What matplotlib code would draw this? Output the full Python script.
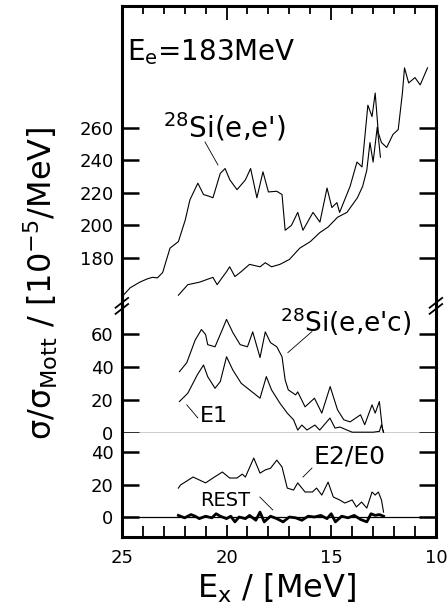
import matplotlib
matplotlib.use("Agg")
import matplotlib.pyplot as plt
from matplotlib.lines import Line2D
from matplotlib.ticker import MultipleLocator

# 28Si(e,e') inclusive spectrum (upper curve, top panel)
ee_E = [25.0, 24.6, 24.15, 23.8, 23.55, 23.3, 23.05, 22.7, 22.3, 21.97, 21.75, 21.37,
        21.1, 20.85, 20.65, 20.3, 20.07, 19.84, 19.5, 19.1, 18.85, 18.55, 18.26, 18.0,
        17.6, 17.35, 17.2, 16.9, 16.6, 16.35, 15.87, 15.54, 15.2, 14.97, 14.73, 14.6,
        14.1, 13.77, 13.53, 13.25, 13.05, 12.9, 12.75, 12.6, 12.35, 12.05, 11.8, 11.6,
        11.5, 11.3, 11.0, 10.75, 10.5, 10.4]
ee_val = [156, 161.6, 165, 167, 168, 167.7, 171, 186, 190, 203.4, 215.7, 226,
          219, 218, 217, 232, 235, 228, 222, 228, 235, 217, 233, 220.6,
          221, 219, 197, 200, 208, 197, 208, 202, 223, 211, 214, 208,
          224, 239, 236, 274, 267, 281.5, 257, 251, 248, 256, 259, 281.5,
          297, 287.7, 291, 286.5, 294, 297]

# second (lower) curve, top panel
ee2_E = [22.3, 21.85, 21.3, 20.65, 20.45, 20.2, 20.0, 19.85, 19.6, 19.35, 18.9, 18.4,
         18.15, 17.85, 17.45, 17.0, 16.5, 16.0, 15.55, 15.15, 14.7, 14.25, 13.75, 13.5,
         13.3, 13.15, 13.0, 12.8, 12.65]
ee2_val = [157, 163.5, 165, 168, 163.5, 168, 171.5, 174.5, 168.5, 171, 176, 174.5,
           177, 174.5, 176, 179, 186, 190, 195.5, 199, 205, 208, 217, 224,
           234, 251, 239, 260.6, 242]

# 28Si(e,e'c) coincidence
eec_E = [22.25, 21.9, 21.5, 21.2, 21.0, 20.9, 20.55, 20.2, 20.0, 19.7, 19.35, 19.0,
         18.75, 18.4, 18.15, 17.9, 17.6, 17.35, 17.2, 17.05, 16.7, 16.6, 16.25, 15.8,
         15.45, 15.05, 14.7, 14.4, 14.1, 13.6, 13.4, 13.05, 12.9, 12.7, 12.55, 12.5]
eec_val = [37, 42.4, 56, 62.4, 59.4, 53.3, 52, 62.4, 68.5, 60.6, 53.3, 52,
           61, 45.5, 61, 54.5, 52, 46, 32, 26, 23, 24.8, 15.8, 21,
           12, 28, 14, 8, 6.7, 11, 5, 17, 12, 19, 2, 0.5]

# E1 part
e1_E = [22.25, 21.85, 21.4, 21.1, 20.9, 20.55, 20.3, 20.0, 19.7, 19.3, 18.9, 18.4,
        18.1, 17.85, 17.45, 17.1, 16.8, 16.6, 16.4, 16.16, 15.78, 15.55, 15.06, 14.82,
        14.58, 14.25, 14.0, 13.5, 13.0, 12.7, 12.6, 12.5]
e1_val = [19, 24, 35, 41, 34, 27, 31, 46, 38, 30, 26, 21,
          34, 26, 18, 12, 8, 1.8, 4.8, 1.8, 4.8, 1.8, 9, 3,
          3.6, 1.8, 0.5, 0.5, 0.5, 1, 5, 0.5]

# E2/E0 part
e2_E = [22.3, 22.2, 21.6, 21.0, 20.65, 20.2, 19.85, 19.5, 19.25, 19.1, 18.7, 18.4,
        18.15, 17.9, 17.6, 17.35, 17.1, 16.8, 16.6, 16.25, 15.9, 15.7, 15.45, 15.15,
        14.9, 14.6, 14.35, 14.0, 13.8, 13.55, 13.3, 13.05, 12.9, 12.75, 12.6, 12.5]
e2_val = [17.8, 19.7, 24.6, 21, 24, 27.7, 24, 24, 26.4, 24.6, 36.3, 27,
          29, 30, 35, 30.8, 17.8, 16.6, 21, 15.4, 15.4, 17.8, 13.5, 21.5,
          12.3, 10.5, 8.6, 10.5, 6.2, 9.2, 5.5, 15.4, 13.5, 15.4, 10.5, 3]

# REST
rest_E = [22.3, 22.0, 21.7, 21.5, 21.3, 21.0, 20.7, 20.5, 20.3, 20.0, 19.8, 19.6, 19.4,
          19.1, 18.9, 18.6, 18.4, 18.2, 17.9, 17.6, 17.3, 17.0, 16.7, 16.4, 16.1, 15.8,
          15.5, 15.2, 15.0, 14.8, 14.5, 14.2, 13.9, 13.6, 13.3, 13.1, 12.9, 12.7, 12.5]
rest_val = [1, -0.5, 1.5, 0.5, -1, 0.5, -0.5, 2, 0.5, -1, 0.5, -3, 0,
            -1, 1, -2, 3, -3, 0.5, -1, -3, 0, -0.5, -2, 0.5, 0,
            1, -1, 2, -3, 0.5, -0.5, 1, -1.5, -3, 2, 1, 1.5, 0.5]

top_ticks = [180, 200, 220, 240, 260]
mid_ticks = [0, 20, 40, 60]
bot_ticks = [0, 20, 40]
x_ticks = [25, 20, 15, 10]

FRAME = 2.2
fig = plt.figure(figsize=(4.48, 6.13), dpi=100)
L, W = 0.272, 0.701
ax1 = fig.add_axes([L, 0.5025, W, 0.4875])
ax2 = fig.add_axes([L, 0.2936, W, 0.2056])
ax3 = fig.add_axes([L, 0.124, W, 0.1696])

for ax in (ax1, ax2, ax3):
    ax.set_xlim(25, 10)
    for s in ax.spines.values():
        s.set_linewidth(FRAME)
    ax.tick_params(axis='y', direction='in', length=12, width=1.8, left=True,
                   right=True, labelsize=13, pad=6)
    ax.xaxis.set_major_locator(MultipleLocator(5))
    ax.xaxis.set_minor_locator(MultipleLocator(1))

ax1.plot(ee_E, ee_val, color='black', lw=0.8)
ax1.plot(ee2_E, ee2_val, color='black', lw=0.8)
ax1.set_ylim(151, 335)
ax1.set_yticks(top_ticks)
ax1.spines['bottom'].set_visible(False)
ax1.tick_params(axis='x', which='both', direction='in', bottom=False, top=True,
                labelbottom=False, width=1.3)
ax1.tick_params(axis='x', which='major', length=10)
ax1.tick_params(axis='x', which='minor', length=6)

ax2.plot(eec_E, eec_val, color='black', lw=0.8)
ax2.plot(e1_E, e1_val, color='black', lw=0.8)
ax2.set_ylim(0, 76)
ax2.set_yticks(mid_ticks)
ax2.spines['top'].set_visible(False)
ax2.spines['bottom'].set_linewidth(1.0)
ax2.tick_params(axis='x', which='both', bottom=False, labelbottom=False)

ax3.plot(e2_E, e2_val, color='black', lw=0.8)
ax3.plot(rest_E, rest_val, color='black', lw=2.0)
ax3.axhline(0, color='black', lw=0.9)
ax3.set_ylim(-12.3, 51.7)
ax3.set_yticks(bot_ticks)
ax3.spines['top'].set_visible(False)
ax3.set_xticks(x_ticks)
ax3.tick_params(axis='x', which='both', direction='in', width=1.3, labelsize=13, pad=9)
ax3.tick_params(axis='x', which='major', length=9)
ax3.tick_params(axis='x', which='minor', length=8)

# axis-break marks
for xf in (L, L + W):
    for yf in (0.496, 0.506):
        fig.add_artist(Line2D([xf - 0.014, xf + 0.014], [yf - 0.008, yf + 0.008],
                              color='black', lw=1.3, transform=fig.transFigure))

# labels
ax1.text(24.76, 301.8, 'E$_\\mathrm{e}$=183MeV', fontsize=20, ha='left', va='baseline')
ax1.text(23.04, 253.9, "$^{28}$Si(e,e')", fontsize=20, ha='left', va='baseline')
ax1.plot([21.03, 20.41], [251.4, 237.2], color='black', lw=0.6)
ax2.text(17.45, 61.2, "$^{28}$Si(e,e'c)", fontsize=19, ha='left', va='baseline')
ax2.plot([15.92, 17.07], [61.2, 48.5], color='black', lw=0.6)
ax2.text(21.27, 6.7, 'E1', fontsize=16, ha='left', va='baseline')
ax2.plot([21.9, 21.37], [17, 9.1], color='black', lw=0.6)
ax3.text(15.87, 33.2, 'E2/E0', fontsize=18, ha='left', va='baseline')
ax3.plot([15.92, 16.35], [30.1, 24.6], color='black', lw=0.6)
ax3.text(21.27, 6.8, 'REST', fontsize=14, ha='left', va='baseline')
ax3.plot([18.41, 17.79], [12.3, 4.3], color='black', lw=0.6)

fig.text(41 / 448, 1 - 283 / 613, 'σ/σ$_\\mathrm{Mott}$ / [10$^{-5}$/MeV]',
         rotation=90, ha='center', va='center', fontsize=23)
fig.text(277 / 448, 1 - 588 / 613, 'E$_\\mathrm{x}$ / [MeV]', ha='center',
         va='center', fontsize=23)

fig.savefig('out.png', dpi=100)
